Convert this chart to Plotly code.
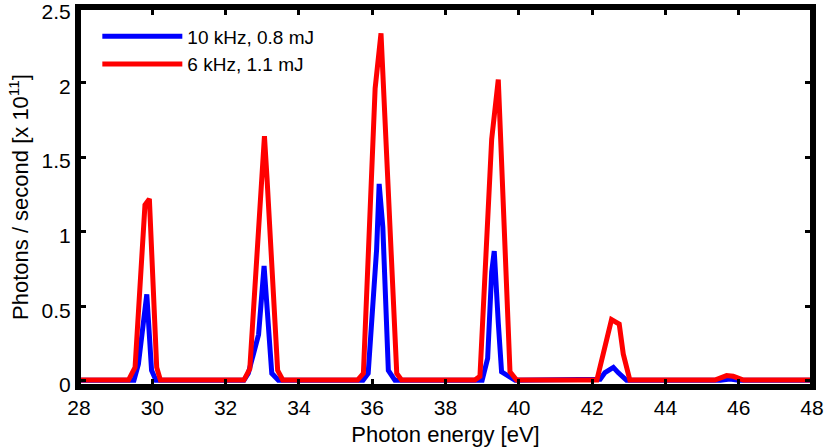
import plotly.graph_objects as go

# Photon energy [eV] and photon flux [x 1e11 photons/s]
red_energy = [28, 29.35, 29.53, 29.8, 29.92, 30.12, 30.22,
              32.5, 32.66, 32.95, 33.06, 33.13, 33.42, 33.56,
              35.6, 35.76, 36.08, 36.24, 36.67, 36.8,
              38.8, 38.94, 39.26, 39.44, 39.76, 39.94,
              42.13, 42.53, 42.74, 42.85, 43.03,
              45.35, 45.67, 45.85, 46.13, 48]
red_flux = [0.005, 0.005, 0.09, 1.18, 1.22, 0.09, 0.005,
            0.005, 0.08, 1.2, 1.64, 1.36, 0.07, 0.005,
            0.005, 0.05, 1.96, 2.33, 0.05, 0.005,
            0.005, 0.03, 1.62, 2.02, 0.06, 0.005,
            0.005, 0.41, 0.38, 0.18, 0.005,
            0.005, 0.035, 0.03, 0.005, 0.005]

blue_energy = [28, 29.5, 29.62, 29.85, 29.98, 30.1,
               32.5, 32.62, 32.9, 33.05, 33.12, 33.26, 33.44,
               35.75, 35.89, 36.12, 36.19, 36.29, 36.44, 36.62,
               39.0, 39.15, 39.26, 39.33, 39.44, 39.53, 39.9,
               42.22, 42.35, 42.58, 42.71, 42.94,
               45.5, 45.76, 46.0, 48]
blue_flux = [0.003, 0.003, 0.11, 0.58, 0.07, 0.003,
             0.003, 0.05, 0.31, 0.77, 0.53, 0.05, 0.003,
             0.003, 0.05, 0.88, 1.32, 1.03, 0.07, 0.003,
             0.003, 0.15, 0.73, 0.87, 0.39, 0.06, 0.003,
             0.01, 0.055, 0.09, 0.055, 0.003,
             0.003, 0.012, 0.003, 0.003]

x_ticks = [28, 30, 32, 34, 36, 38, 40, 42, 44, 46, 48]
y_ticks = [0, 0.5, 1, 1.5, 2, 2.5]
y_tick_labels = ["0", "0.5", "1", "1.5", "2", "2.5"]

font_family = "Liberation Sans, Arial, sans-serif"

fig = go.Figure()
fig.add_trace(go.Scatter(x=blue_energy, y=blue_flux, mode="lines",
                         name="10 kHz, 0.8 mJ",
                         line=dict(color="#0000ff", width=5)))
fig.add_trace(go.Scatter(x=red_energy, y=red_flux, mode="lines",
                         name="6 kHz, 1.1 mJ",
                         line=dict(color="#ff0000", width=5)))

axis_common = dict(showline=True, linecolor="black", linewidth=4,
                   mirror="allticks", ticks="inside", ticklen=7,
                   tickwidth=3, tickcolor="black", showgrid=False,
                   zeroline=False, automargin=False,
                   ticklabeloverflow="allow",
                   tickfont=dict(family=font_family, size=21, color="black"))

fig.update_layout(
    width=827, height=448,
    margin=dict(l=79, r=15, t=8, b=62),
    paper_bgcolor="white", plot_bgcolor="white",
    font=dict(family=font_family, color="black"),
    xaxis=dict(range=[28, 48], tickvals=x_ticks,
               title=dict(text="Photon energy [eV]", standoff=9,
                          font=dict(size=22, family=font_family)),
               **axis_common),
    yaxis=dict(range=[-0.035, 2.5], tickvals=y_ticks, ticktext=y_tick_labels,
               ticklabelshift=4,
               title=dict(text="Photons / second [x 10<sup>11</sup>]", standoff=8,
                          font=dict(size=22, family=font_family)),
               **axis_common),
    legend=dict(x=0.025, y=0.975, xanchor="left", yanchor="top",
                bgcolor="rgba(0,0,0,0)", itemwidth=80,
                font=dict(size=19, family=font_family, color="black"),
                tracegroupgap=0),
    shapes=[dict(type="rect", xref="paper", yref="paper", x0=0, x1=1, y0=0, y1=1,
                 line=dict(color="black", width=4), layer="above")],
    showlegend=True,
)

fig.write_html("out.html", config={"displayModeBar": False},
               post_script="document.body.style.margin='0';document.body.style.padding='0';")
